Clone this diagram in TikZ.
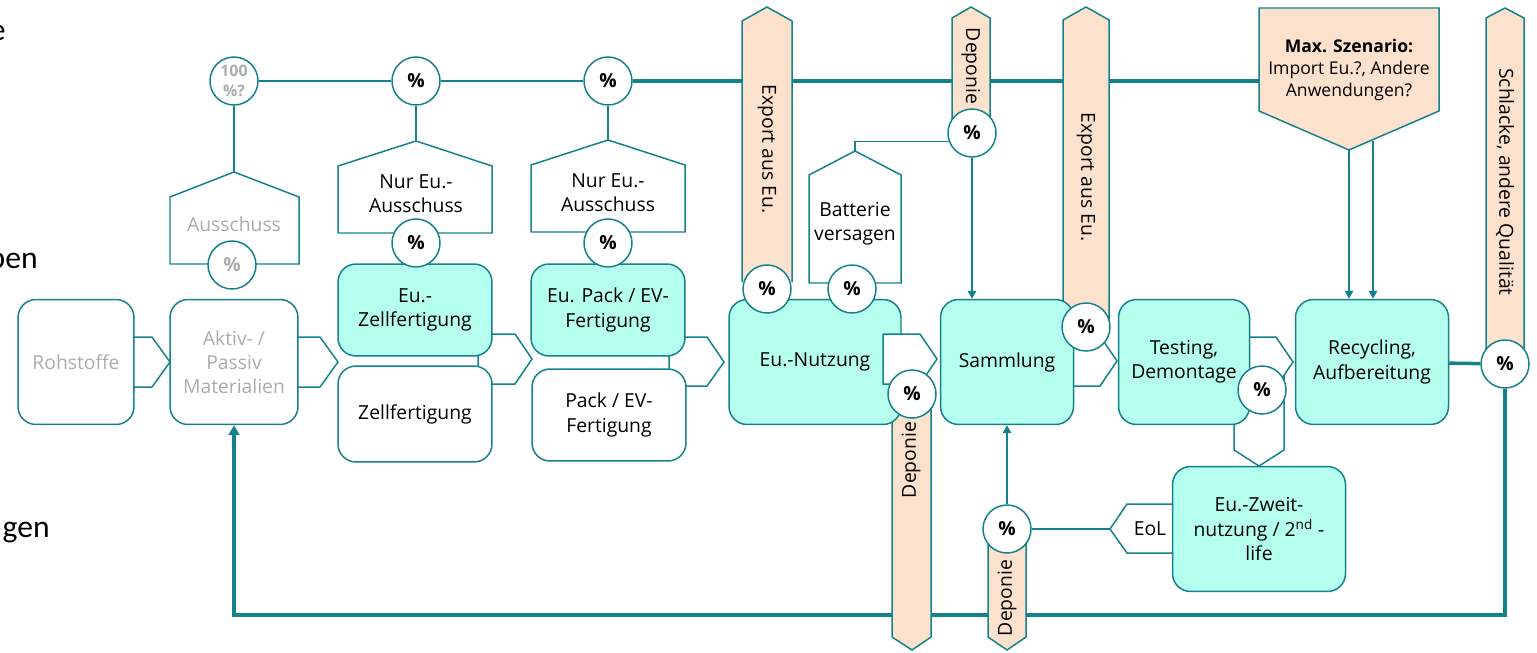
\documentclass[tikz,border=0pt]{standalone}
\usepackage{fontspec}
\setmainfont{Open Sans}
\newfontfamily\slidefont{Carlito}
\usepackage{xcolor}
\definecolor{flowteal}{RGB}{20,130,140}
\definecolor{lightteal}{RGB}{180,255,238}
\definecolor{peach}{RGB}{252,225,205}
\definecolor{greytxt}{RGB}{168,174,174}
\usepackage{tikz}
\usetikzlibrary{arrows.meta,positioning,calc}
\pgfdeclarelayer{back}
\pgfdeclarelayer{mid}
\pgfsetlayers{back,mid,main}

\begin{document}
\begin{tikzpicture}[x=0.02cm, y=-0.02cm,
    every node/.style={font=\fontsize{11}{13.7}\selectfont, align=center, inner sep=1pt},
    box/.style={rectangle, draw=flowteal, line width=0.85pt, fill=white, rounded corners=0.36cm, minimum height=2.5cm},
    eubox/.style={box, fill=lightteal},
    pct/.style={circle, draw=flowteal, line width=0.85pt, fill=white, minimum size=0.96cm, inner sep=0pt, font=\fontsize{11}{13}\selectfont\bfseries},
    blockarrow/.style={draw=flowteal, line width=0.85pt, fill=white, line join=miter},
    outflow/.style={blockarrow, fill=peach},
    thinline/.style={draw=flowteal, line width=1pt},
    thickline/.style={draw=flowteal, line width=2pt},
    flowarrow/.style={thinline, -{Triangle[length=0.16cm, width=0.17cm]}},
    slidetext/.style={anchor=base east, inner sep=0pt, font=\slidefont\fontsize{18}{21}\selectfont}]
    \useasboundingbox (0,0) rectangle (1537,652);

    % Slide text cut off at the left edge
    \node[slidetext] (frag1) at (6,41) {e};
    \node[slidetext] (frag2) at (38,268) {pen};
    \node[slidetext] (frag3) at (50,537) {gen};

    % Process chain
    \node[box, minimum width=2.32cm, text=greytxt] (roh) at (76,362) {Rohstoffe};
    \node[box, minimum width=2.56cm, text=greytxt] (akt) at (234,362) {Aktiv- /\\Passiv\\Materialien};
    \node[eubox, minimum width=3.08cm, minimum height=1.84cm] (euzell) at (415,310) {Eu.-\\Zellfertigung};
    \node[box, minimum width=3.08cm, minimum height=1.92cm] (zell) at (415,414) {Zellfertigung};
    \node[eubox, minimum width=3.08cm, minimum height=1.84cm] (eupack) at (608,310) {Eu. Pack / EV-\\Fertigung};
    \node[box, minimum width=3.08cm, minimum height=1.84cm] (pack) at (609,415) {Pack / EV-\\Fertigung};
    \node[eubox, minimum width=3.44cm] (nutz) at (815,362) {Eu.-Nutzung};
    \node[eubox, minimum width=2.66cm] (samm) at (1007,362) {Sammlung};
    \node[eubox, minimum width=2.62cm] (test) at (1184,362) {Testing,\\Demontage};
    \node[eubox, minimum width=3.06cm] (recy) at (1372,362) {Recycling,\\Aufbereitung};
    \node[eubox, minimum width=3.46cm] (zweit) at (1259,529) {Eu.-Zweit-\\nutzung / 2\textsuperscript{nd} -\\life};

    % chevron into Sammlung sits on top of Eu.-Nutzung
    \path[blockarrow] (883,384) -- (883,334) -- (920,334) -- (937,359) -- (920,384) -- cycle;

    % Shares
    \node[pct, text=greytxt, font=\fontsize{9}{11}\selectfont\bfseries] (c100) at (234,81) {100\\\%?};
    \node[pct] (cz1) at (416,81) {\%};
    \node[pct] (cz2) at (608,81) {\%};
    \node[pct, text=greytxt] (caus) at (232,265) {\%};
    \node[pct] (cnur1) at (416,243) {\%};
    \node[pct] (cnur2) at (608,243) {\%};
    \node[pct] (cexp1) at (767,289) {\%};
    \node[pct] (cbat) at (852,289) {\%};
    \node[pct] (cdep) at (912,394) {\%};
    \node[pct] (cdept) at (972,133) {\%};
    \node[pct] (cexp2) at (1086,327) {\%};
    \node[pct] (ctest) at (1262,390) {\%};
    \node[pct] (cdepl) at (1007,529) {\%};
    \node[pct] (csch) at (1505,364) {\%};

    % Labels of losses and inputs
    \node[text=greytxt] (aus) at (234,224) {Ausschuss};
    \node (nur1) at (416,194) {Nur Eu.-\\Ausschuss};
    \node (nur2) at (608,193) {Nur Eu.-\\Ausschuss};
    \node (bat) at (855,224) {Batterie\\versagen};
    \node[rotate=-90] (texp1) at (767,149) {Export aus Eu.};
    \node[rotate=-90] (tdept) at (971,66) {Deponie};
    \node[rotate=-90] (texp2) at (1086,177) {Export aus Eu.};
    \node[rotate=-90] (tsch) at (1505,182) {Schlacke, andere Qualität};
    \node[rotate=90] (tdep1) at (911,460) {Deponie};
    \node[rotate=90] (tdep2) at (1007,598) {Deponie};
    \node (eol) at (1150,529) {EoL};
    \node[font=\fontsize{10}{12.5}\selectfont] (maxsz) at (1349,70) {\textbf{Max. Szenario:}\\Import Eu.?, Andere\\Anwendungen?};

    \coordinate (maxw) at (1259,81);
    \coordinate (maxtip) at (1349,150);
    \coordinate (maxr) at (1373,141);
    \coordinate (austip) at (234,172);
    \coordinate (nur1tip) at (416,141);
    \coordinate (nur2tip) at (608,140);
    \coordinate (battip) at (855,151);
    \coordinate (eoltip) at (1110,529);
    \coordinate (fbr) at (1505,615);

    \begin{pgfonlayer}{mid}
        % Outflows
        \path[outflow] (742,282) -- (742,21) -- (767,7) -- (792,21) -- (792,282);
        \path[outflow] (952,133) -- (952,18) -- (971,7) -- (990,18) -- (990,133);
        \path[outflow] (1063,320) -- (1063,20) -- (1086,7) -- (1109,20) -- (1109,320);
        \path[outflow] (1486,364) -- (1486,18) -- (1505,8) -- (1524,18) -- (1524,364);
        \path[outflow] (892,394) -- (892,637) -- (912,650) -- (931,637) -- (931,394);
        \path[outflow] (988,529) -- (988,637) -- (1007,650) -- (1026,637) -- (1026,529);
        \path[outflow] (1259,8) -- (1439,8) -- (1439,111) -- (1349,150) -- (1259,111) -- cycle;

        % Scrap pentagons
        \path[blockarrow] (170,264) -- (170,197) -- (234,172) -- (299,197) -- (299,264) -- cycle;
        \path[blockarrow] (338,233) -- (338,166) -- (416,141) -- (492,166) -- (492,233) -- cycle;
        \path[blockarrow] (531,232) -- (531,165) -- (608,140) -- (685,165) -- (685,232) -- cycle;
        \path[blockarrow] (809,283) -- (809,175) -- (855,151) -- (901,175) -- (901,283) -- cycle;
        \path[blockarrow] (1234,370) -- (1234,450) -- (1259,466) -- (1284,450) -- (1284,370);

        % Flow chevrons
        \path[blockarrow] (120,387) -- (120,337) -- (152,337) -- (170,362) -- (152,387) -- cycle;
        \path[blockarrow] (290,387) -- (290,337) -- (320,337) -- (338,362) -- (320,387) -- cycle;
        \path[blockarrow] (478,384) -- (478,334) -- (515,334) -- (532,359) -- (515,384) -- cycle;
        \path[blockarrow] (669,386) -- (669,337) -- (707,337) -- (724,362) -- (707,386) -- cycle;
        \path[blockarrow] (1060,386) -- (1060,336) -- (1100,336) -- (1117,361) -- (1100,386) -- cycle;
        \path[blockarrow] (1240,387) -- (1240,337) -- (1276,337) -- (1293,362) -- (1276,387) -- cycle;
        \path[blockarrow] (1180,553) -- (1127,553) -- (1110,529) -- (1127,504) -- (1180,504) -- cycle;
    \end{pgfonlayer}

    \begin{pgfonlayer}{back}
        \draw[thinline] (c100) -- (cz1) -- (cz2);
        \draw[thickline] (cz2) -- (maxw);
        \draw[thinline] (c100) -- (austip);
        \draw[thinline] (cz1) -- (nur1tip);
        \draw[thinline] (cz2) -- (nur2tip);
        \draw[thickline] (recy) -- (csch);
        \draw[thickline, -{Triangle[length=0.2cm, width=0.22cm]}] (csch) -- (fbr) -| (akt.south);
    \end{pgfonlayer}

    % Connectors
    \draw[thinline] (battip) |- (cdept.200);
    \draw[flowarrow] (cdept) -- (cdept |- samm.north);
    \draw[flowarrow] (cdepl) -- (samm.south);
    \draw[thinline] (eoltip) -- (cdepl);
    \draw[flowarrow] (maxtip) -- (maxtip |- recy.north);
    \draw[flowarrow, line width=1.4pt] (maxr) -- (maxr |- recy.north);
\end{tikzpicture}
\end{document}
